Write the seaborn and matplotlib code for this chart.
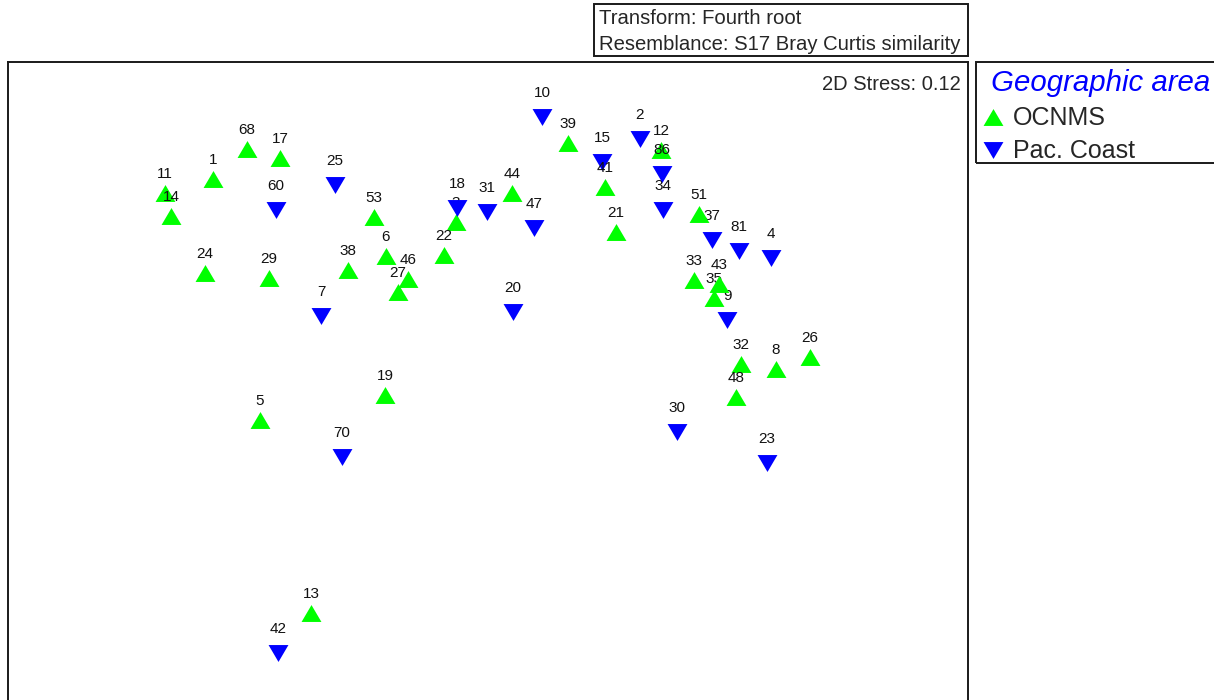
import matplotlib
matplotlib.use("Agg")
import matplotlib.pyplot as plt
import pandas as pd
import seaborn as sns
from matplotlib.lines import Line2D
from matplotlib.patches import Rectangle

# nMDS ordination scores (arbitrary units) for each sample, by geographic area
ocnms_ids = [11, 14, 1, 68, 17, 24, 29, 53, 38, 6, 46, 27, 22, 3, 44,
             39, 41, 21, 12, 51, 33, 43, 35, 32, 8, 26, 48, 19, 5, 13]
ocnms_mds1 = [-3.23, -3.17, -2.75, -2.41, -2.08, -2.83, -2.19, -1.14, -1.40, -1.02,
              -0.80, -0.90, -0.44, -0.32, 0.24, 0.80, 1.17, 1.28, 1.73, 2.11,
              2.06, 2.31, 2.26, 2.53, 2.88, 3.22, 2.48, -1.03, -2.28, -1.77]
ocnms_mds2 = [1.87, 1.64, 2.01, 2.31, 2.22, 1.07, 1.02, 1.63, 1.10, 1.24,
              1.01, 0.88, 1.25, 1.58, 1.87, 2.37, 1.93, 1.48, 2.30, 1.66,
              1.00, 0.96, 0.82, 0.16, 0.11, 0.23, -0.17, -0.15, -0.40, -2.33]

pac_ids = [60, 25, 7, 18, 31, 47, 20, 10, 15, 2, 86, 34, 37, 81, 4, 9, 30, 23, 70, 42]
pac_mds1 = [-2.12, -1.53, -1.67, -0.31, -0.01, 0.46, 0.25, 0.54, 1.14, 1.52,
            1.74, 1.75, 2.24, 2.51, 2.83, 2.39, 1.89, 2.79, -1.46, -2.10]
pac_mds2 = [1.70, 1.95, 0.64, 1.72, 1.68, 1.52, 0.68, 2.63, 2.18, 2.41,
            2.06, 1.70, 1.40, 1.29, 1.22, 0.60, -0.52, -0.83, -0.77, -2.73]

areas = ["OCNMS", "Pac. Coast"]
area_colors = {"OCNMS": "#00FF00", "Pac. Coast": "#0000FF"}
# flattened triangles: wider than tall
up_tri = [(-1, -0.85), (1, -0.85), (0, 0.85)]
down_tri = [(-1, 0.85), (1, 0.85), (0, -0.85)]
area_markers = {"OCNMS": up_tri, "Pac. Coast": down_tri}
label_offset = {"OCNMS": 14.0, "Pac. Coast": 17.0}

df = pd.concat([
    pd.DataFrame({"sample": ocnms_ids, "MDS1": ocnms_mds1, "MDS2": ocnms_mds2, "area": "OCNMS"}),
    pd.DataFrame({"sample": pac_ids, "MDS1": pac_mds1, "MDS2": pac_mds2, "area": "Pac. Coast"}),
], ignore_index=True).sort_values("sample").reset_index(drop=True)

sns.set_style("white")
plt.rcParams["font.family"] = ["Liberation Sans", "DejaVu Sans"]

W, H = 1214, 700
fig = plt.figure(figsize=(W / 100, H / 100), dpi=100)
ax = fig.add_axes([8 / W, -10 / H, 960 / W, 648 / H])

# draw samples in sample order so later points sit on top of earlier labels
for i, row in df.iterrows():
    sns.scatterplot(x=[row["MDS1"]], y=[row["MDS2"]], ax=ax,
                    color=area_colors[row["area"]], marker=area_markers[row["area"]],
                    s=205, linewidth=0, legend=False, zorder=3 + 2 * i)
    ax.annotate(str(row["sample"]), (row["MDS1"], row["MDS2"]),
                xytext=(0, label_offset[row["area"]]), textcoords="offset points",
                ha="center", va="center", fontsize=11, color="#111111",
                zorder=4 + 2 * i)

ax.set_xlim(-4.80, 4.80)
ax.set_ylim(-3.30, 3.18)
ax.set_xticks([])
ax.set_yticks([])
ax.set_xlabel("")
ax.set_ylabel("")
for sp in ax.spines.values():
    sp.set_linewidth(1.4)
    sp.set_color("#1a1a1a")

ax.text(0.992, 0.965, "2D Stress: 0.12", transform=ax.transAxes,
        ha="right", va="center", fontsize=14.5)

# header box with transform / resemblance info
fig.patches.append(Rectangle((594 / W, 1 - 56 / H), (968 - 594) / W, 52 / H,
                             transform=fig.transFigure, fill=False,
                             edgecolor="#1a1a1a", linewidth=1.4))
fig.text(599 / W, 1 - 18 / H, "Transform: Fourth root", ha="left", va="center", fontsize=14.6)
fig.text(599 / W, 1 - 44 / H, "Resemblance: S17 Bray Curtis similarity",
         ha="left", va="center", fontsize=14.6)

# legend frame, running off the right edge of the figure
fig.patches.append(Rectangle((976 / W, 1 - 163 / H), 260 / W, (163 - 62) / H,
                             transform=fig.transFigure, fill=False,
                             edgecolor="#1a1a1a", linewidth=1.4))

handles = [Line2D([], [], linestyle="none", marker=area_markers[a], markersize=14.3,
                  markerfacecolor=area_colors[a], markeredgewidth=0, label=a)
           for a in areas]
leg = fig.legend(handles=handles, loc="upper left", bbox_to_anchor=(976 / W, 1 - 62 / H),
                 bbox_transform=fig.transFigure, title=" Geographic area",
                 fontsize=18, title_fontsize=21.2, alignment="left",
                 frameon=False, borderpad=0.28, handlelength=0.8, handletextpad=0.4,
                 labelspacing=0.37, borderaxespad=0)
leg.get_title().set_color("#0000FF")
leg.get_title().set_fontstyle("italic")

fig.savefig("out.png", dpi=100)
